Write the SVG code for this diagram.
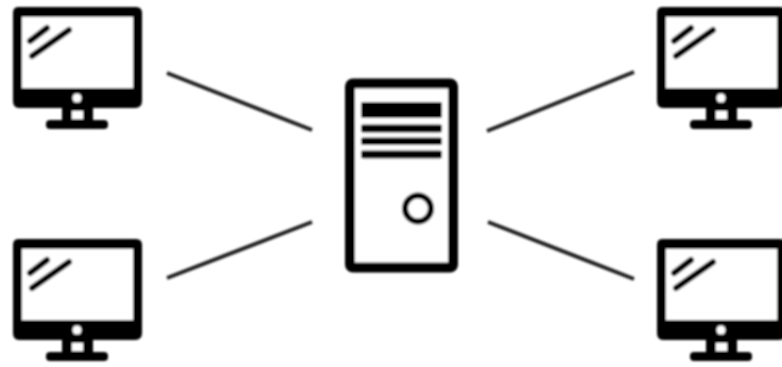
<svg xmlns="http://www.w3.org/2000/svg" width="782" height="367" viewBox="0 0 782 367">
<defs>
<style>.k{fill:#050505}.w{fill:#fff}.g{stroke:#050505;fill:none;stroke-linecap:round}.c{stroke:#222;stroke-width:4;fill:none}</style>
<filter id="b" x="-5%" y="-5%" width="110%" height="110%"><feGaussianBlur stdDeviation="1.2"/></filter>
<g id="mon">
<path class="k" d="M18 7H136Q142 7 142 13V101Q142 108 135 108H19Q13 108 13 101V13Q13 7 18 7Z"/>
<rect class="w" x="22" y="17" width="111" height="71"/>
<rect class="k" x="62" y="105" width="31" height="18"/>
<rect class="k" x="46" y="120" width="62" height="9" rx="4"/>
<rect class="w" x="72" y="111" width="11" height="8"/>
<circle class="w" cx="77" cy="98" r="4.5"/>
<path class="g" stroke-width="6" d="M30 41L47 28M32 56L69 30"/>
</g>
</defs>
<rect width="782" height="367" fill="#fff"/>
<g filter="url(#b)">
<g id="connectors">
<path class="c" d="M167 73L312 130M167 278L312 222M487 131L634 72M488 222L634 279"/>
</g>
<g id="client-top-left"><use href="#mon"/></g>
<g id="client-bottom-left"><use href="#mon" y="232"/></g>
<g id="client-top-right"><use href="#mon" x="644"/></g>
<g id="client-bottom-right"><use href="#mon" x="644" y="232"/></g>
<g id="server">
<rect x="350" y="83.500" width="103" height="184" rx="3" fill="#fff" stroke="#050505" stroke-width="10"/>
<rect class="k" x="361" y="102" width="81" height="16" rx="2"/>
<rect class="k" x="361" y="124.500" width="81" height="8" rx="2"/>
<rect class="k" x="361" y="137.500" width="81" height="7.500" rx="2"/>
<rect class="k" x="361" y="150.500" width="81" height="8" rx="2"/>
<circle cx="418" cy="208.500" r="13" fill="#fff" stroke="#050505" stroke-width="6"/>
</g>
</g>
</svg>
